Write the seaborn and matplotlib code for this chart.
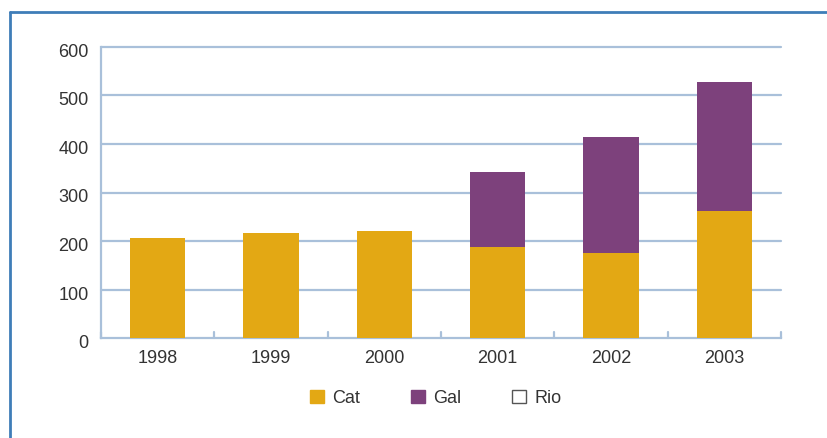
import matplotlib
matplotlib.use("Agg")
import matplotlib.pyplot as plt
import matplotlib.transforms as mtransforms
from matplotlib.patches import Patch
from matplotlib.lines import Line2D
import seaborn as sns
import pandas as pd

years = ["1998", "1999", "2000", "2001", "2002", "2003"]
cat = [206, 217, 220, 188, 176, 262]
gal = [0, 0, 0, 154, 238, 266]
rio = [0, 0, 0, 0, 0, 0]
y_ticks = [0, 100, 200, 300, 400, 500, 600]

CAT_COLOR = "#E3A814"
GAL_COLOR = "#7D417C"
GRID_COLOR = "#A9C0DA"
FRAME_COLOR = "#3F7DB8"
TEXT_COLOR = "#333333"

sns.set_theme(style="white")
plt.rcParams["font.family"] = ["Liberation Sans Narrow", "Liberation Sans", "DejaVu Sans"]

df = pd.DataFrame({"year": years, "cat": cat, "gal": gal, "rio": rio})
df["total"] = df["cat"] + df["gal"] + df["rio"]

fig = plt.figure(figsize=(8.28, 4.39), dpi=100)
ax = fig.add_axes([101 / 828, 1 - 339.3 / 439, 680 / 828, (339.3 - 47.7) / 439])

# stacked bars: full stack first, then the lower segment on top of it
sns.barplot(data=df, x="year", y="total", color=GAL_COLOR, saturation=1,
            width=0.49, linewidth=0, ax=ax, zorder=3)
sns.barplot(data=df, x="year", y="cat", color=CAT_COLOR, saturation=1,
            width=0.49, linewidth=0, ax=ax, zorder=4)

ax.set_xlim(-0.5, len(years) - 0.5)
ax.set_ylim(0, 600)
ax.set_yticks(y_ticks)
ax.set_yticklabels([str(v) for v in y_ticks])
ax.set_xlabel("")
ax.set_ylabel("")

for v in y_ticks[1:]:
    ax.axhline(v, color=GRID_COLOR, lw=1.6, zorder=1, clip_on=False)

for side in ["top", "right"]:
    ax.spines[side].set_visible(False)
for side in ["left", "bottom"]:
    ax.spines[side].set_color(GRID_COLOR)
    ax.spines[side].set_linewidth(1.6)

ax.tick_params(axis="y", length=0, pad=9, labelsize=13, labelcolor=TEXT_COLOR)
ax.tick_params(axis="x", length=0, pad=8, labelsize=13, labelcolor=TEXT_COLOR)

# nudge the value labels slightly below their gridlines
shift = mtransforms.ScaledTranslation(0, -2.5 / 100, fig.dpi_scale_trans)
for lbl in ax.get_yticklabels():
    lbl.set_transform(lbl.get_transform() + shift)

# small upward separators between categories along the baseline
for b in range(len(years) + 1):
    ax.plot([b - 0.5, b - 0.5], [0, 12], color=GRID_COLOR, lw=1.6,
            zorder=2, clip_on=False)

handles = [
    Patch(facecolor=CAT_COLOR, edgecolor=CAT_COLOR, label="Cat"),
    Patch(facecolor=GAL_COLOR, edgecolor=GAL_COLOR, label="Gal"),
    Patch(facecolor="white", edgecolor="#555555", linewidth=1.0, label="Rio"),
]
fig.legend(handles=handles, loc="center", bbox_to_anchor=(436 / 828, 1 - 399 / 439),
           ncol=3, frameon=False, fontsize=13, handlelength=0.75, handleheight=0.75,
           handletextpad=0.5, columnspacing=2.8, labelcolor=TEXT_COLOR)

# outer frame lines (top and left)
fig.add_artist(Line2D([10 / 828, 1.0], [1 - 13 / 439, 1 - 13 / 439],
                      color=FRAME_COLOR, lw=2.0, transform=fig.transFigure))
fig.add_artist(Line2D([10 / 828, 10 / 828], [0, 1 - 13 / 439],
                      color=FRAME_COLOR, lw=2.0, transform=fig.transFigure))

fig.savefig("out.png", dpi=100)
